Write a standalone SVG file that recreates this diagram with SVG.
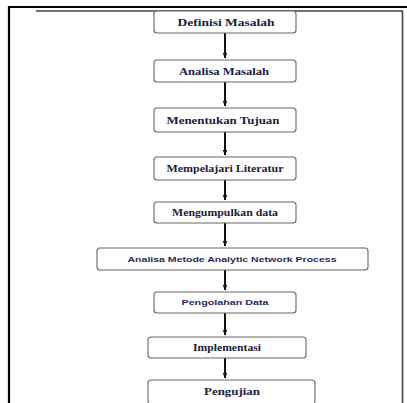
<svg xmlns="http://www.w3.org/2000/svg" width="407" height="403" viewBox="0 0 407 403">
<defs>
<marker id="ah" viewBox="0 0 10 10" refX="9" refY="5" markerWidth="3" markerHeight="3" markerUnits="strokeWidth" orient="auto">
<path d="M0,1 L10,5 L0,9 Z" fill="#111"/>
</marker>
<style>
.box{fill:#fff;stroke:#666;stroke-width:1.1}
.lbl{font-family:"Liberation Serif","Times New Roman",serif;font-weight:bold;font-size:10px;fill:#1b1b40;text-anchor:middle;dominant-baseline:central}
.lbl2{font-family:"Liberation Sans",Arial,sans-serif;font-weight:bold;font-size:8px;fill:#2a2a5a;text-anchor:middle;dominant-baseline:central}
.con{stroke:#111;stroke-width:2;fill:none}
</style>
</defs>
<rect width="407" height="403" fill="#fff"/>
<g id="frame">
<line x1="9" y1="6" x2="9" y2="403" stroke="#000" stroke-width="2.2"/>
<line x1="8" y1="7" x2="407" y2="7" stroke="#000" stroke-width="2.2"/>
<line x1="36" y1="11" x2="402.5" y2="11" stroke="#444" stroke-width="1.6"/>
<line x1="402.5" y1="10.5" x2="402.5" y2="403" stroke="#444" stroke-width="1.6"/>
</g>
<g id="connectors">
<line class="con" x1="225" y1="33" x2="225" y2="58" marker-end="url(#ah)"/>
<line class="con" x1="225" y1="82" x2="225" y2="106" marker-end="url(#ah)"/>
<line class="con" x1="225" y1="132" x2="225" y2="155" marker-end="url(#ah)"/>
<line class="con" x1="225" y1="180" x2="225" y2="200" marker-end="url(#ah)"/>
<line class="con" x1="225" y1="223" x2="225" y2="246" marker-end="url(#ah)"/>
<line class="con" x1="225" y1="270" x2="225" y2="290" marker-end="url(#ah)"/>
<line class="con" x1="225" y1="313" x2="225" y2="335" marker-end="url(#ah)"/>
<line class="con" x1="225" y1="358" x2="225" y2="378" marker-end="url(#ah)"/>
</g>
<g id="n1"><rect class="box" x="154" y="11" width="142" height="22" rx="3"/><text class="lbl" x="226" y="22" textLength="97" lengthAdjust="spacingAndGlyphs">Definisi Masalah</text></g>
<g id="n2"><rect class="box" x="154" y="60" width="142" height="22" rx="3"/><text class="lbl" x="224" y="71" textLength="90" lengthAdjust="spacingAndGlyphs">Analisa Masalah</text></g>
<g id="n3"><rect class="box" x="154" y="108" width="142" height="24" rx="3"/><text class="lbl" x="223" y="120" textLength="113" lengthAdjust="spacingAndGlyphs">Menentukan Tujuan</text></g>
<g id="n4"><rect class="box" x="154" y="157" width="142" height="23" rx="3"/><text class="lbl" x="225" y="168" textLength="117" lengthAdjust="spacingAndGlyphs">Mempelajari Literatur</text></g>
<g id="n5"><rect class="box" x="154" y="202" width="142" height="21" rx="3"/><text class="lbl" x="225" y="212" textLength="106" lengthAdjust="spacingAndGlyphs">Mengumpulkan data</text></g>
<g id="n6"><rect class="box" x="97" y="248" width="271" height="22" rx="3"/><text class="lbl2" x="232" y="259" textLength="209" lengthAdjust="spacingAndGlyphs">Analisa Metode Analytic Network Process</text></g>
<g id="n7"><rect class="box" x="154" y="292" width="142" height="21" rx="3"/><text class="lbl2" x="225" y="302" textLength="87" lengthAdjust="spacingAndGlyphs">Pengolahan Data</text></g>
<g id="n8"><rect class="box" x="148" y="337" width="158" height="21" rx="3"/><text class="lbl" x="227" y="347" textLength="68" lengthAdjust="spacingAndGlyphs">Implementasi</text></g>
<g id="n9"><rect class="box" x="148" y="380" width="167" height="24" rx="3"/><text class="lbl" x="232" y="391" textLength="56" lengthAdjust="spacingAndGlyphs">Pengujian</text></g>
</svg>
